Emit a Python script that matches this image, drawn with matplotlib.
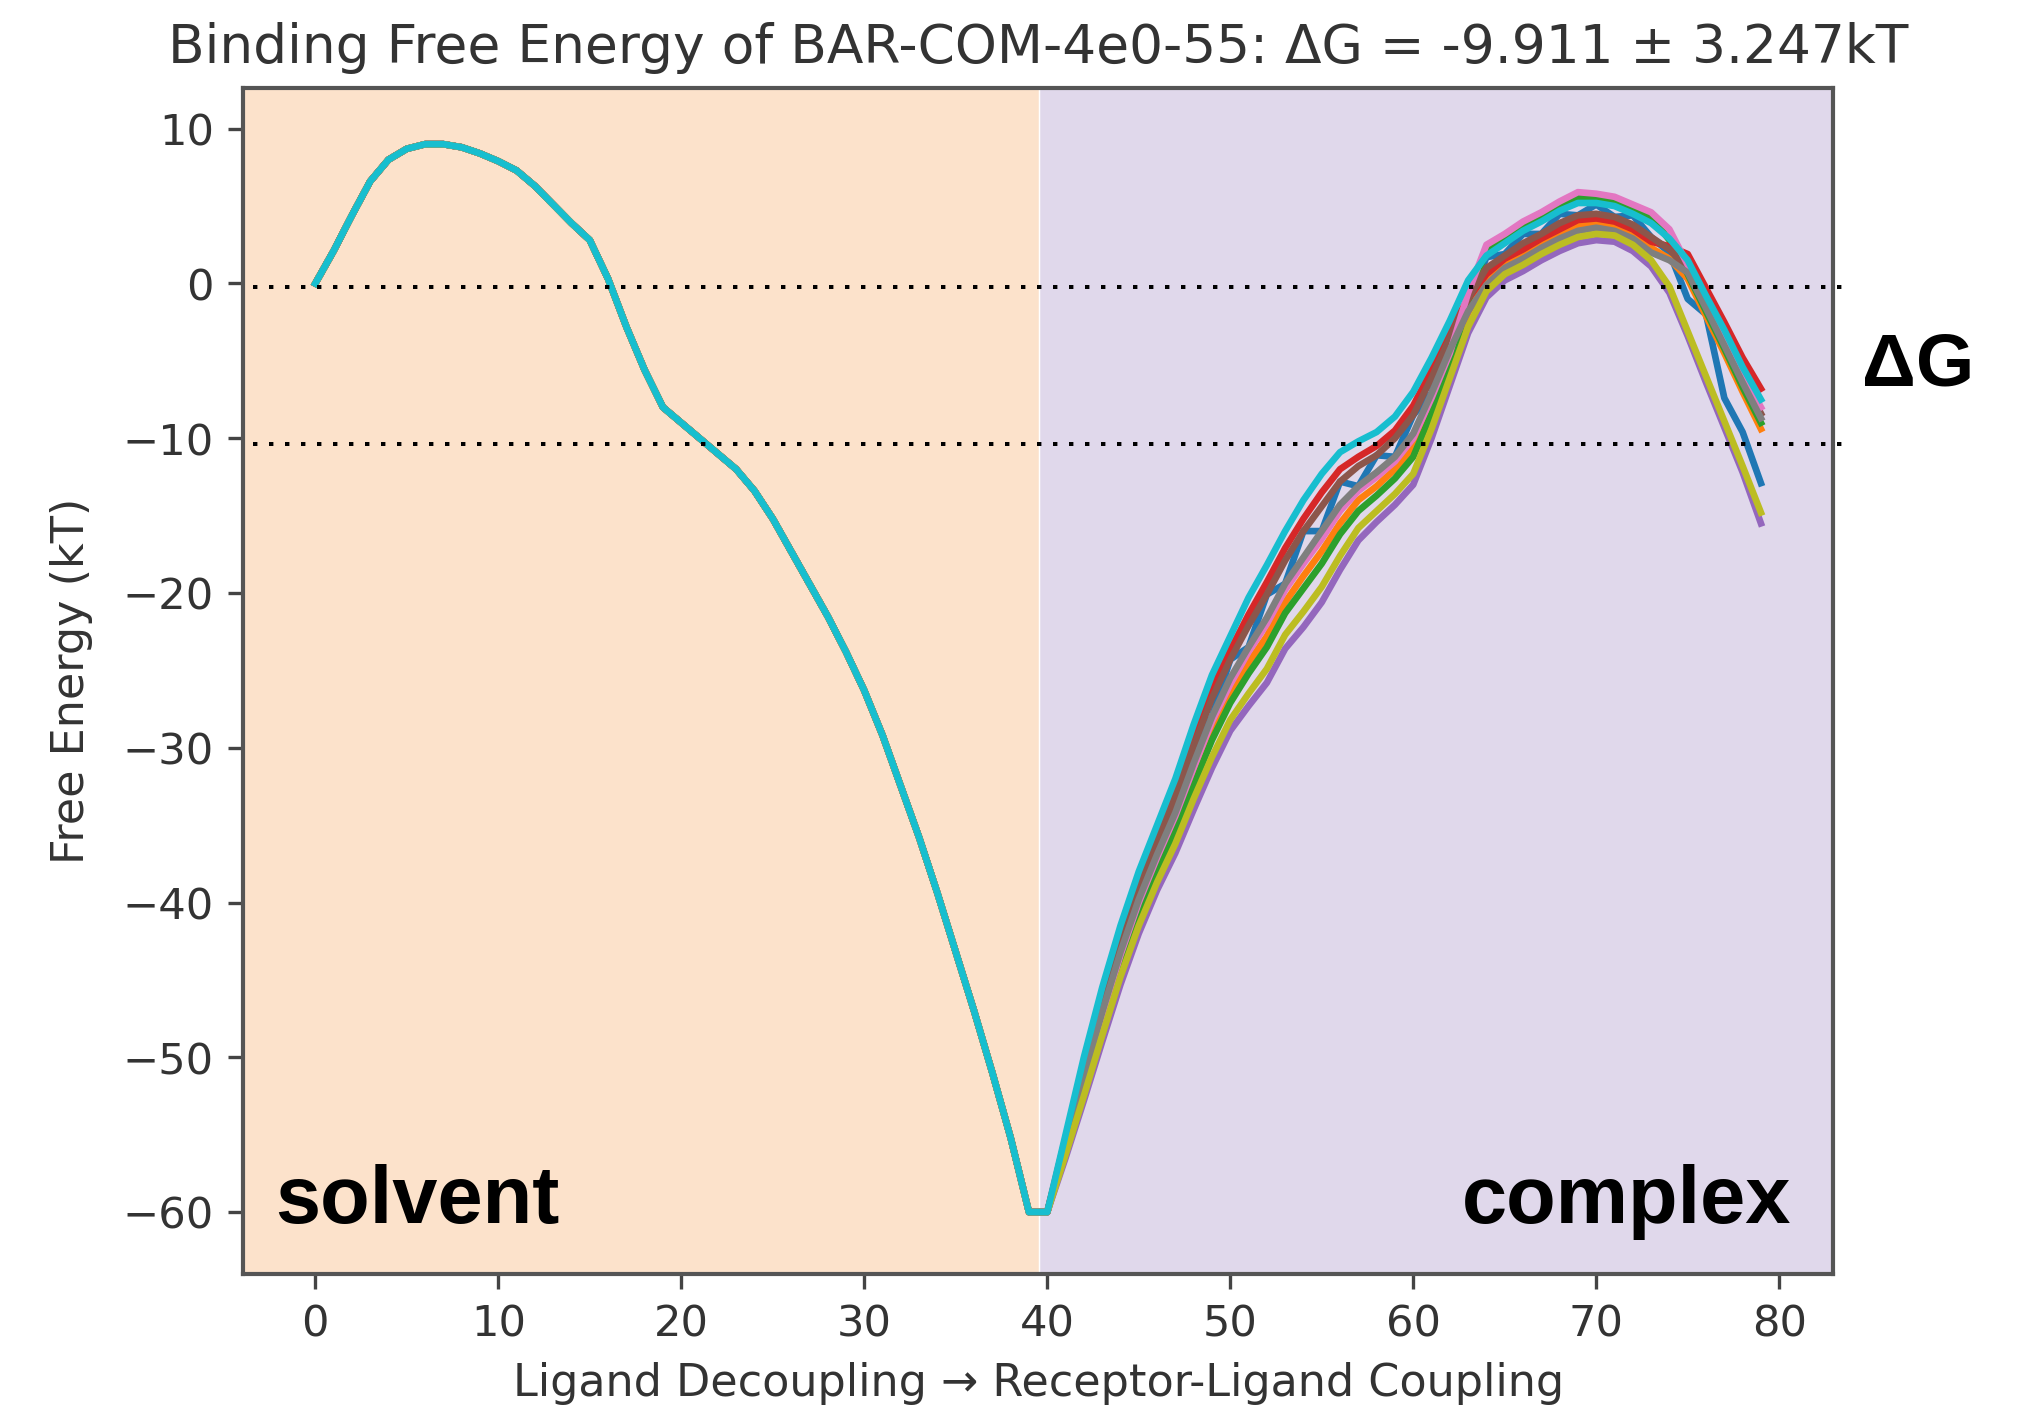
import numpy as np
import matplotlib
matplotlib.use("Agg")
import matplotlib.pyplot as plt


# lambda window index along the whole path: 0-39 solvent, 40-79 complex
states = np.arange(80)

# solvent leg, shared by all runs (they overlap almost perfectly)
solvent_dG = [0.0, 2.1, 4.4, 6.6, 8.0, 8.7, 9.0, 9.0, 8.8, 8.4,
              7.9, 7.3, 6.3, 5.1, 3.9, 2.8, 0.3, -2.8, -5.6, -8.0,
              -9.0, -10.0, -11.0, -12.0, -13.4, -15.2, -17.3, -19.4, -21.5, -23.8,
              -26.3, -29.2, -32.5, -35.8, -39.4, -43.2, -47.0, -51.0, -55.2, -60.0]

# complex leg, one list per run (states 40-79)
complex_blue = [-60.0, -55.7, -50.7, -47.1, -42.5, -39.8, -36.1, -34.2, -29.9, -28.0,
                -24.3, -23.5, -20.1, -19.4, -16.0, -16.0, -12.8, -13.1, -11.1, -11.2,
                -8.5, -7.1, -3.5, -1.3, 1.7, 1.9, 3.2, 3.2, 4.5, 4.4,
                5.1, 4.3, 4.4, 3.0, 2.0, -1.0, -2.0, -7.4, -9.6, -12.9]
complex_orange = [-60.0, -55.9, -51.7, -47.6, -43.8, -40.4, -37.5, -34.9, -31.8, -28.9,
                  -26.5, -24.5, -22.8, -20.6, -18.9, -17.3, -15.5, -14.0, -13.1, -12.0,
                  -10.6, -7.9, -4.9, -1.9, 0.3, 1.3, 1.9, 2.6, 3.2, 3.8,
                  3.9, 3.7, 3.2, 2.3, 1.6, 0.3, -2.1, -4.5, -7.0, -9.4]
complex_green = [-60.0, -56.1, -52.0, -48.0, -44.2, -40.8, -37.9, -35.4, -32.4, -29.5,
                 -27.1, -25.2, -23.5, -21.3, -19.7, -18.1, -16.2, -14.7, -13.7, -12.6,
                 -11.2, -8.4, -5.3, -1.2, 2.2, 2.9, 3.7, 4.3, 5.0, 5.6,
                 5.5, 5.3, 4.8, 4.3, 2.8, 0.6, -1.8, -4.2, -6.7, -9.0]
complex_red = [-60.0, -55.2, -50.4, -46.0, -42.1, -38.6, -35.6, -32.7, -29.3, -26.2,
               -23.7, -21.4, -19.3, -17.1, -15.2, -13.5, -12.0, -11.2, -10.5, -9.5,
               -7.9, -5.6, -3.0, -1.0, 0.6, 1.6, 2.2, 2.9, 3.5, 4.1,
               4.2, 4.0, 3.5, 2.7, 2.4, 1.9, -0.3, -2.5, -4.8, -6.8]
complex_purple = [-60.0, -56.5, -52.8, -49.0, -45.3, -42.0, -39.2, -36.8, -34.0, -31.3,
                  -28.9, -27.3, -25.8, -23.6, -22.2, -20.6, -18.5, -16.6, -15.4, -14.3,
                  -13.0, -10.0, -6.6, -3.2, -0.9, 0.2, 0.8, 1.5, 2.1, 2.6,
                  2.8, 2.7, 2.1, 1.1, -0.6, -3.4, -6.4, -9.3, -12.2, -15.5]
complex_brown = [-60.0, -55.4, -50.7, -46.4, -42.5, -39.0, -36.1, -33.2, -29.9, -26.8,
                 -24.3, -22.1, -20.1, -17.9, -16.0, -14.4, -12.8, -11.8, -11.1, -10.0,
                 -8.5, -6.1, -3.5, -1.0, 1.0, 1.8, 2.6, 3.2, 3.9, 4.4,
                 4.5, 4.3, 3.8, 3.0, 2.2, 0.9, -1.4, -3.7, -6.1, -8.4]
complex_pink = [-60.0, -55.8, -51.4, -47.3, -43.4, -40.0, -37.1, -34.4, -31.3, -28.3,
                -25.9, -23.8, -22.0, -19.8, -18.1, -16.5, -14.7, -13.4, -12.5, -11.5,
                -10.0, -7.4, -4.5, -0.6, 2.5, 3.2, 4.0, 4.6, 5.3, 5.9,
                5.8, 5.6, 5.1, 4.6, 3.5, 1.2, -1.2, -3.5, -5.8, -8.0]
complex_gray = [-60.0, -55.7, -51.3, -47.1, -43.2, -39.8, -36.9, -34.2, -31.0, -28.0,
                -25.5, -23.5, -21.6, -19.4, -17.7, -16.0, -14.3, -13.1, -12.2, -11.2,
                -9.7, -7.1, -4.3, -1.8, -0.1, 1.0, 1.6, 2.3, 2.9, 3.4,
                3.6, 3.4, 2.9, 2.0, 1.5, 0.7, -1.6, -4.0, -6.4, -8.7]
complex_olive = [-60.0, -56.3, -52.5, -48.6, -44.8, -41.5, -38.7, -36.2, -33.3, -30.6,
                 -28.2, -26.5, -24.9, -22.7, -21.2, -19.6, -17.6, -15.8, -14.7, -13.6,
                 -12.3, -9.4, -6.1, -2.8, -0.5, 0.6, 1.2, 1.9, 2.5, 3.0,
                 3.2, 3.1, 2.5, 1.5, -0.2, -3.1, -6.0, -8.9, -11.8, -14.8]
complex_cyan = [-60.0, -55.0, -50.0, -45.5, -41.5, -38.0, -35.0, -32.0, -28.5, -25.3,
                -22.8, -20.3, -18.2, -16.0, -14.0, -12.3, -10.9, -10.2, -9.6, -8.6,
                -7.0, -4.8, -2.4, 0.2, 1.8, 2.6, 3.4, 4.0, 4.7, 5.2,
                5.2, 5.0, 4.5, 3.9, 2.9, 1.5, -0.8, -3.0, -5.4, -7.5]

# where the two reference lines sit (0 and the binding free energy)
dg_lines = [-0.2, -10.35]

title = "Binding Free Energy of BAR-COM-4e0-55: \u0394G = -9.911 \u00b1 3.247kT"


fig = plt.figure(figsize=(2023.4 / 300, 1409.4 / 300), dpi=300)
ax = fig.add_axes([0.1201, 0.0958, 0.7859, 0.8417])

xmin, xmax = -3.95, 82.95
ax.axvspan(xmin, 39.55, color='#fce2cb', lw=0, zorder=0)
ax.axvspan(39.55, xmax, color='#e0d8eb', lw=0, zorder=0)
ax.axvline(39.57, color='white', lw=0.35, zorder=0.5)

runs = [complex_blue, complex_orange, complex_green, complex_red, complex_purple,
        complex_brown, complex_pink, complex_gray, complex_olive, complex_cyan]
for i, run in enumerate(runs):
    ax.plot(states, solvent_dG + run, color='C' + str(i), lw=1.6, zorder=2)

for y in dg_lines:
    ax.plot([0.006, 1.011], [y, y], transform=ax.get_yaxis_transform(),
            color='black', lw=0.96, linestyle=(0, (1.1, 2.9)), clip_on=False, zorder=3)

ax.set_xlim(xmin, xmax)
ax.set_ylim(-64.0, 12.65)
ax.set_xticks(range(0, 81, 10))
ax.set_yticks(range(-60, 11, 10))
ax.tick_params(colors='#444444', labelcolor='#333333', labelsize=10.4)
for sp in ax.spines.values():
    sp.set_color('#555555')
    sp.set_linewidth(1.0)

ax.set_title(title, color='#333333', fontsize=12.8)
ax.set_xlabel("Ligand Decoupling \u2192 Receptor-Ligand Coupling", color='#333333',
              fontsize=10.7)
ax.set_ylabel("Free Energy (kT)", color='#333333', fontsize=10.7, labelpad=7)

fig.text(0.136, 0.132, "solvent", fontsize=19.5, fontweight='bold',
         family='Liberation Sans', va='baseline', ha='left')
fig.text(0.8853, 0.132, "complex", fontsize=19.5, fontweight='bold',
         family='Liberation Sans', va='baseline', ha='right')
fig.text(0.9204, 0.740, "\u0394G", fontsize=18, fontweight='bold',
         family='Liberation Sans', va='center', ha='left')

fig.savefig("out.png", dpi=300)
